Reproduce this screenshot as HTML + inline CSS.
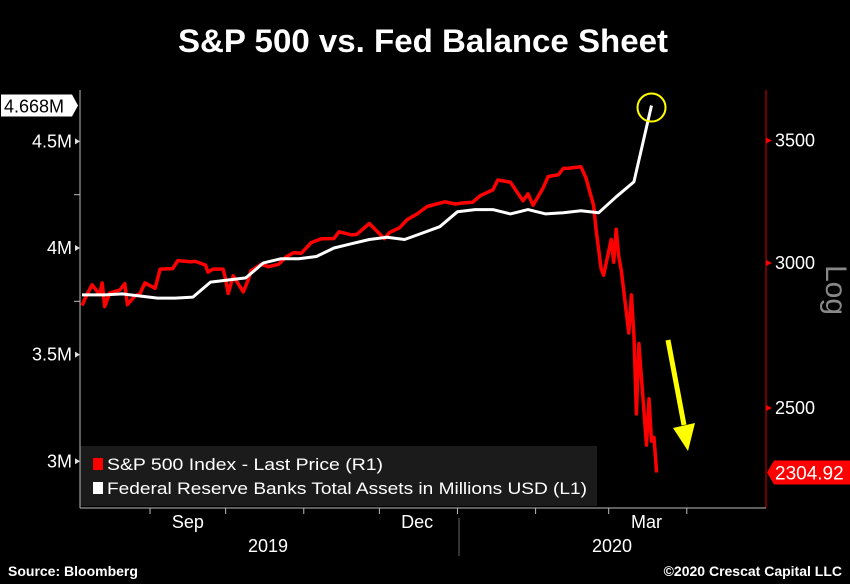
<!DOCTYPE html>
<html><head><meta charset="utf-8"><style>
body{margin:0;background:#000;width:850px;height:584px;overflow:hidden}
svg{display:block}
text{font-family:"Liberation Sans",sans-serif}
</style></head><body>
<svg id="c" width="850" height="584" viewBox="0 0 850 584">
<text x="178" y="52" textLength="490" lengthAdjust="spacingAndGlyphs" fill="#fff" font-size="32" font-weight="bold">S&amp;P 500 vs. Fed Balance Sheet</text>
<rect x="80" y="446" width="517" height="60" fill="#1b1b1b"/>
<rect x="93" y="458" width="10" height="12" fill="#f00"/>
<text x="107" y="470" textLength="276" lengthAdjust="spacingAndGlyphs" fill="#fff" font-size="17">S&amp;P 500 Index - Last Price (R1)</text>
<rect x="93" y="482" width="10" height="12" fill="#fff"/>
<text x="107" y="494" textLength="480" lengthAdjust="spacingAndGlyphs" fill="#fff" font-size="17">Federal Reserve Banks Total Assets in Millions USD (L1)</text>
<line x1="80" y1="90" x2="80" y2="508" stroke="#bbb"/>
<line x1="766" y1="90" x2="766" y2="508" stroke="#d00"/>
<line x1="80" y1="508" x2="766" y2="508" stroke="#bbb"/>
<line x1="459" y1="518" x2="459" y2="556" stroke="#666"/>
<text x="268" y="552" text-anchor="middle" fill="#fff" font-size="18">2019</text>
<text x="612" y="552" text-anchor="middle" fill="#fff" font-size="18">2020</text>
<text x="826" y="290" fill="#888" font-size="30" transform="rotate(90 826 290)" text-anchor="middle">Log</text>
<g id="g"></g>
<text x="8" y="576" fill="#fff" font-size="14" font-weight="bold">Source: Bloomberg</text>
<text x="842" y="576" text-anchor="end" fill="#fff" font-size="14" font-weight="bold">©2020 Crescat Capital LLC</text>
</svg>
<script>
const spDates=["2019-08-05","2019-08-07","2019-08-09","2019-08-12","2019-08-13","2019-08-14","2019-08-16","2019-08-20","2019-08-22","2019-08-23","2019-08-26","2019-08-28","2019-08-30","2019-09-03","2019-09-05","2019-09-10","2019-09-12","2019-09-17","2019-09-19","2019-09-23","2019-09-24","2019-09-26","2019-09-30","2019-10-01","2019-10-02","2019-10-04","2019-10-08","2019-10-10","2019-10-11","2019-10-15","2019-10-18","2019-10-22","2019-10-25","2019-10-28","2019-10-31","2019-11-04","2019-11-08","2019-11-13","2019-11-15","2019-11-20","2019-11-22","2019-11-27","2019-12-03","2019-12-05","2019-12-09","2019-12-12","2019-12-16","2019-12-20","2019-12-27","2019-12-31","2020-01-03","2020-01-07","2020-01-10","2020-01-15","2020-01-17","2020-01-22","2020-01-27","2020-01-29","2020-01-31","2020-02-04","2020-02-06","2020-02-10","2020-02-12","2020-02-14","2020-02-19","2020-02-21","2020-02-24","2020-02-25","2020-02-27","2020-02-28","2020-03-02","2020-03-03","2020-03-04","2020-03-05","2020-03-06","2020-03-09","2020-03-10","2020-03-11","2020-03-12","2020-03-13","2020-03-16","2020-03-17","2020-03-18","2020-03-19","2020-03-20"];
const spValues=[2844,2884,2919,2883,2926,2840,2889,2900,2923,2847,2878,2887,2926,2906,2977,2979,3009,3005,3006,2992,2966,2977,2977,2940,2887,2952,2893,2938,2970,2995,2986,2995,3023,3039,3037,3078,3093,3094,3120,3108,3110,3153,3093,3117,3136,3168,3191,3221,3240,3231,3235,3238,3265,3289,3330,3321,3244,3273,3226,3298,3345,3352,3379,3380,3386,3338,3226,3128,2979,2954,3090,3003,3130,3024,2972,2747,2882,2741,2481,2711,2386,2529,2398,2409,2305];
const fedDates=["2019-08-05","2019-08-14","2019-08-21","2019-08-28","2019-09-04","2019-09-11","2019-09-18","2019-09-25","2019-10-02","2019-10-09","2019-10-16","2019-10-23","2019-10-30","2019-11-06","2019-11-13","2019-11-20","2019-11-27","2019-12-04","2019-12-11","2019-12-18","2019-12-25","2020-01-01","2020-01-08","2020-01-15","2020-01-22","2020-01-29","2020-02-05","2020-02-12","2020-02-19","2020-02-26","2020-03-04","2020-03-11","2020-03-18"];
const fedValues=[3.78,3.78,3.785,3.775,3.765,3.765,3.77,3.84,3.85,3.86,3.93,3.95,3.95,3.96,4.0,4.02,4.04,4.05,4.04,4.07,4.10,4.17,4.18,4.18,4.16,4.18,4.16,4.165,4.175,4.165,4.24,4.31,4.668];
const leftTicks=[4.5,4.0,3.5,3.0];
const leftLabels=["4.5M","4M","3.5M","3M"];
const rightTicks=[3500,3000,2500];
const monthTicks=["2019-09-01","2019-10-01","2019-11-01","2019-12-01","2020-01-01","2020-02-01","2020-03-01","2020-04-01"];
const monthLabels=[["Sep","2019-09-16"],["Dec","2019-12-16"],["Mar","2020-03-16"]];
const lastFedLabel="4.668M", lastSpLabel="2304.92";

const NS="http://www.w3.org/2000/svg";
const t0=Date.UTC(2019,7,5);
function day(s){const p=s.split("-");return (Date.UTC(+p[0],+p[1]-1,+p[2])-t0)/864e5;}
function X(s){return 82+2.52*day(s);}
function YL(v){return 248-(v-4.0)*213.3;}
function YR(v){return 263-795*Math.log(v/3000);}
const g=document.getElementById("g");
function mk(tag,attrs){const e=document.createElementNS(NS,tag);for(const k in attrs)e.setAttribute(k,attrs[k]);g.appendChild(e);return e;}

leftTicks.forEach((v,i)=>{const y=YL(v);
 const p=mk("path",{d:`M80 ${y} l-5 -3 v6 z`,fill:"#ddd"});
 
 
 const t=mk("text",{x:72,y:y+6,"text-anchor":"end",fill:"#fff","font-size":"18"});t.textContent=leftLabels[i];
 
 
});
mk("line",{x1:74,y1:YL(4.25),x2:80,y2:YL(4.25),stroke:"#bbb"});
mk("line",{x1:74,y1:YL(3.75),x2:80,y2:YL(3.75),stroke:"#bbb"});
rightTicks.forEach(v=>{const y=YR(v);
 const p=mk("path",{d:`M766 ${y-3} l6 3 l-6 3 z`,fill:"#f00"});
 
 
 const t=mk("text",{x:775,y:y+6,fill:"#fff","font-size":"18"});t.textContent=v;
 
 
});
monthTicks.forEach(s=>{const x=X(s);
 const l=mk("line",{x1:x,y1:508,x2:x,y2:514,stroke:"#bbb"});
 
 
});
monthLabels.forEach(m=>{const t=mk("text",{x:X(m[1]),y:528,"text-anchor":"middle",fill:"#fff","font-size":"18"});t.textContent=m[0];
 
 
});

const sp=mk("polyline",{points:spDates.map((d,i)=>X(d).toFixed(1)+","+YR(spValues[i]).toFixed(1)).join(" "),fill:"none",stroke:"#f00","stroke-width":"3.5","stroke-linejoin":"round"});


const fed=mk("polyline",{points:fedDates.map((d,i)=>X(d).toFixed(1)+","+YL(fedValues[i]).toFixed(1)).join(" "),fill:"none",stroke:"#fff","stroke-width":"3","stroke-linejoin":"round"});



const lx=X(fedDates[fedDates.length-1]),ly=YL(fedValues[fedValues.length-1]);
const circ=mk("circle",{cx:lx,cy:ly+2,r:14,fill:"none",stroke:"#ff0","stroke-width":"2"});


const arr=mk("path",{d:"M668 340 L684 425",stroke:"#ff0","stroke-width":"5",fill:"none"});


const ah=mk("path",{d:"M673 428 L695 423 L688 451 Z",fill:"#ff0"});



const fy=YL(fedValues[fedValues.length-1]);
const fb=mk("path",{d:`M1 ${fy-11} H72 L78 ${fy} L72 ${fy+11} H1 Z`,fill:"#fff"});


const ft=mk("text",{x:4,y:fy+7,fill:"#000","font-size":"18"});ft.textContent=lastFedLabel;


const sy=YR(spValues[spValues.length-1]);
const sb=mk("path",{d:`M774 ${sy-12} H850 V${sy+12} H774 L767 ${sy} Z`,fill:"#f00"});


const st=mk("text",{x:775,y:sy+7,fill:"#fff","font-size":"19"});st.textContent=lastSpLabel;


</script>
</body></html>
